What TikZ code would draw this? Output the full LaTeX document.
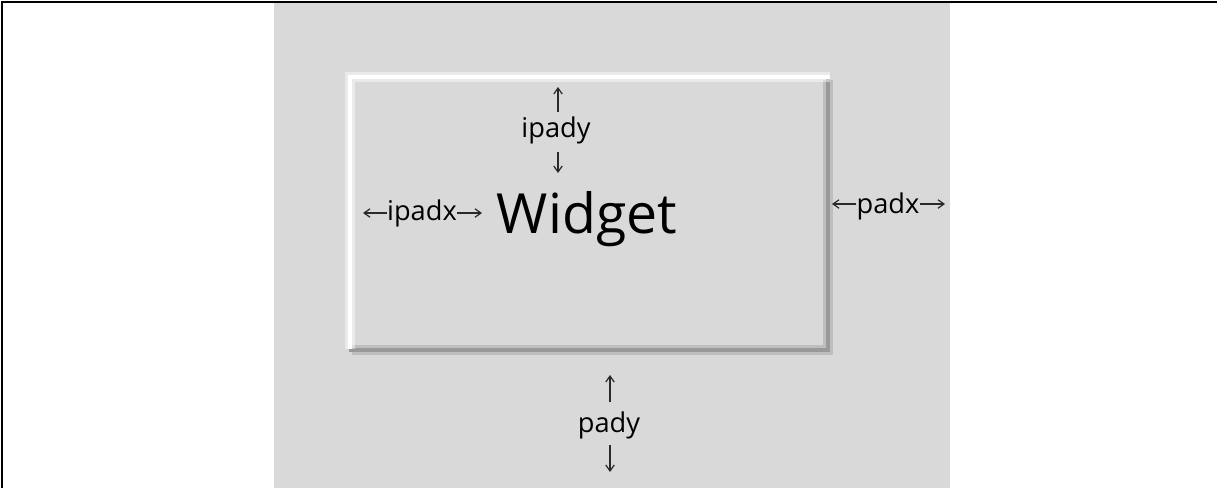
\documentclass[tikz,border=0pt]{standalone}
\usepackage{fontspec}
\setmainfont{Open Sans}
\usetikzlibrary{arrows.meta}
\definecolor{bggray}{HTML}{D9D9D9}
\definecolor{shadowgray}{HTML}{999999}
\definecolor{inkc}{HTML}{000000}
\definecolor{arrc}{HTML}{2A2A2A}
\begin{document}
\begin{tikzpicture}[x=0.02cm,y=-0.02cm,
  lbl/.style={anchor=base,inner sep=0pt,text=inkc,font=\fontsize{15.5}{18}\selectfont},
  big/.style={anchor=base,inner sep=0pt,text=inkc,font=\fontsize{31.5}{36}\selectfont},
  arr/.style={draw=arrc,line width=0.7pt,-{Straight Barb[length=1.2mm,width=1.7mm]}}]
\useasboundingbox (0,0) rectangle (1217,488);
\fill[white] (0,0) rectangle (1217,488);
% gray panel
\fill[bggray] (274,3) rectangle (950,488);
% frame lines
\draw[black,line width=0.04cm] (2,488) -- (2,2) -- (1217,2);
% button
\fill[bggray] (348,75) rectangle (831,352);
\draw[black,opacity=0.12,line width=0.2cm] (828,80) -- (828,350) -- (352,350);
\draw[shadowgray,line width=0.09cm] (828,78) -- (828,350) -- (349,350);
\draw[white,opacity=0.45,line width=0.2cm] (350,349) -- (350,77) -- (830,77);
\draw[white,line width=0.09cm] (350,349) -- (350,77) -- (830,77);
% labels
\node[big] (widget) at (587,233) {Widget};
\node[lbl] (ipady) at (556,137) {ipady};
\node[lbl] (ipadx) at (422,220) {ipadx};
\node[lbl] (padx) at (888,213) {padx};
\node[lbl] (pady) at (609,432) {pady};
% arrow end points
\coordinate (ipadyTop) at (558,87);
\coordinate (ipadyBot) at (558,173);
\coordinate (ipadxL) at (363,213);
\coordinate (ipadxR) at (482,213);
\coordinate (padxL) at (832,204);
\coordinate (padxR) at (945,204);
\coordinate (padyTop) at (610,375);
\coordinate (padyBot) at (610,472);
% arrows
\draw[arr] (558,112) -- (ipadyTop);
\draw[arr] (558,152) -- (ipadyBot);
\draw[arr] (ipadx.west |- ipadxL) -- (ipadxL);
\draw[arr] (ipadx.east |- ipadxR) -- (ipadxR);
\draw[arr] (padx.west |- padxL) -- (padxL);
\draw[arr] (padx.east |- padxR) -- (padxR);
\draw[arr] (610,402) -- (padyTop);
\draw[arr] (610,445) -- (padyBot);
\end{tikzpicture}
\end{document}
